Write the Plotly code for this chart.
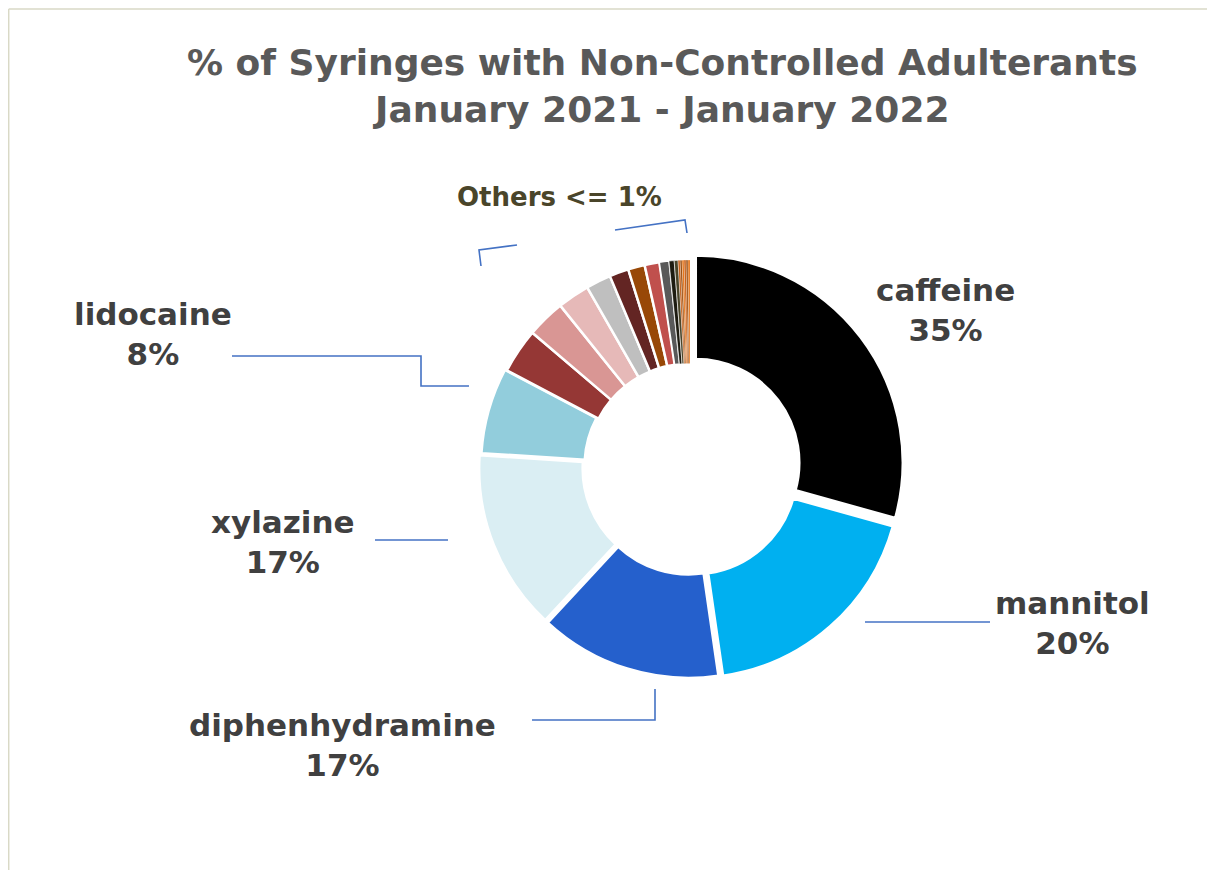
import plotly.graph_objects as go

W, H = 1215, 870
OFF = 8  # page body margin offset of the plot div

# slice names (pie shares)
slice_names = ["caffeine", "mannitol", "diphenhydramine", "xylazine", "lidocaine",
               "other 1", "other 2", "other 3", "other 4", "other 5", "other 6",
               "other 7", "other 8", "other 9", "other 10",
               "other 11", "other 12", "other 13", "other 14", "other 15", "other 16"]
slice_values = [29.3, 18.4, 14.2, 14.1, 6.7,
                3.5, 3.0, 2.5, 1.95, 1.5, 1.3,
                1.15, 0.75, 0.4, 0.3,
                0.16, 0.15, 0.15, 0.16, 0.15, 0.15]
slice_colors = ["#000000", "#00B0F0", "#2560CC", "#DAEEF3", "#92CDDC",
                "#953735", "#D99694", "#E6B9B8", "#BFBFBF", "#632523", "#984807",
                "#C0504D", "#595959", "#1D1B10", "#4A452A",
                "#C55A11", "#984807", "#E46C0A", "#C55A11", "#984807", "#E46C0A"]
slice_pull = [0.035, 0.025, 0.02, 0.02, 0.01] + [0] * 16
slice_border = [2.5] * 12 + [1.5, 0.6, 0.6] + [0.3] * 6

# label texts (percent of syringes)
label_names = ["caffeine", "mannitol", "diphenhydramine", "xylazine", "lidocaine"]
label_pcts = ["35%", "20%", "17%", "17%", "8%"]
others_label = "Others <= 1%"
title_lines = ["% of Syringes with Non-Controlled Adulterants", "January 2021 - January 2022"]

# geometry (pixels, page coordinates)
cx, cy, R = 690, 467, 207
maxpull = max(slice_pull)
half = R * (1 + maxpull)

def px(x):
    return (x - OFF) / W

def py(y):
    return 1 - (y - OFF) / H

fig = go.Figure(go.Pie(
    labels=slice_names, values=slice_values, sort=False,
    direction="clockwise", rotation=0, hole=0.5,
    marker=dict(colors=slice_colors, line=dict(color="white", width=slice_border)),
    pull=slice_pull, textinfo="none", hoverinfo="label+value",
    domain=dict(x=[px(cx - half), px(cx + half)], y=[py(cy + half), py(cy - half)]),
    showlegend=False,
))

FONT = "DejaVu Sans"
LBL = dict(family=FONT, size=31, color="#404040")

annotations = []
annotations.append(dict(text="<b>" + title_lines[0] + "</b><br><b>" + title_lines[1] + "</b>",
                        x=px(662), y=py(86), xref="paper", yref="paper", showarrow=False,
                        font=dict(family=FONT, size=36, color="#595959"), align="center",
                        xanchor="center", yanchor="middle"))
label_pos = [(945, 310), (1072, 623), (342, 745), (283, 542), (153, 334)]
for (name, pct), (x, y) in zip(zip(label_names, label_pcts), label_pos):
    annotations.append(dict(text="<b>" + name + "</b><br><b>" + pct + "</b>",
                            x=px(x), y=py(y), xref="paper", yref="paper", showarrow=False,
                            font=LBL, align="center", xanchor="center", yanchor="middle"))
annotations.append(dict(text="<b>" + others_label + "</b>", x=px(559), y=py(197),
                        xref="paper", yref="paper", showarrow=False,
                        font=dict(family=FONT, size=26, color="#4A452A"),
                        xanchor="center", yanchor="middle"))

LC = dict(color="#4472C4", width=1.6)
paths = [
    [(865, 622), (990, 622)],
    [(532, 720), (655, 720), (655, 689)],
    [(375, 540), (448, 540)],
    [(232, 356), (421, 356), (421, 386), (469, 386)],
    [(481, 266), (479, 250), (517, 245)],
    [(615, 230), (685, 220), (687, 233)],
]
shapes = []
for p in paths:
    d = "M " + " L ".join(f"{px(x):.5f},{py(y):.5f}" for x, y in p)
    shapes.append(dict(type="path", path=d, xref="paper", yref="paper", line=LC))
BC = dict(color="#D9D9C6", width=1.5)
shapes.append(dict(type="line", x0=px(8.7), x1=1, y0=py(9), y1=py(9), xref="paper", yref="paper", line=BC))
shapes.append(dict(type="line", x0=px(8.7), x1=px(8.7), y0=py(9), y1=0, xref="paper", yref="paper", line=BC))

fig.update_layout(width=W, height=H, margin=dict(l=0, r=0, t=0, b=0),
                  paper_bgcolor="white", plot_bgcolor="white",
                  annotations=annotations, shapes=shapes)
fig.write_html("out.html")
